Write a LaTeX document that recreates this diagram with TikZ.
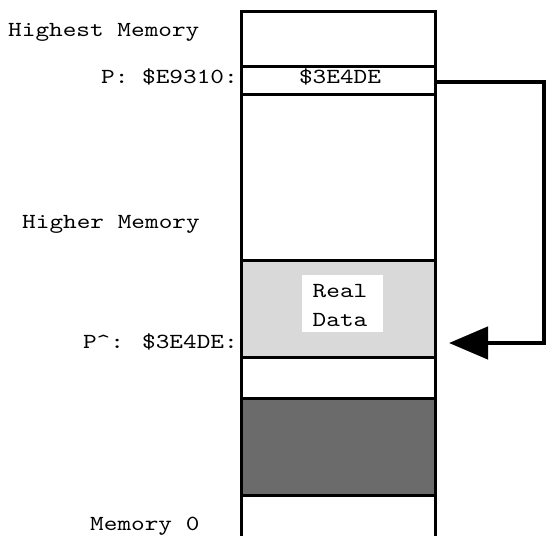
\documentclass[tikz,border=0pt]{standalone}
\usepackage{fontspec}
\newfontfamily\memfont[FakeStretch=1.21]{lmmono10-regular.otf}
\usetikzlibrary{arrows.meta}

\tikzset{
  label text/.style={font=\memfont\fontsize{21.5}{26}\selectfont, inner sep=0pt},
  cell/.style={draw=black, line width=3pt, minimum width=194pt, inner sep=0pt, outer sep=0pt},
  light fill/.style={fill=black!15},
  dark fill/.style={fill=black!58},
  pointer/.style={line width=4.5pt, -{Triangle[length=39pt,width=32pt]}},
}

\begin{document}
\begin{tikzpicture}[x=1pt,y=-1pt]
  \useasboundingbox (0,0) rectangle (548,535);

  % memory cells, top to bottom
  \node[cell, minimum height=54pt, anchor=north west] (top) at (241,12) {};
  \node[cell, minimum height=28pt, anchor=north west] (pcell) at (241,66) {};
  \node[cell, minimum height=166pt, anchor=north west] (gap) at (241,94) {};
  \node[cell, light fill, minimum height=97pt, anchor=north west] (real) at (241,260) {};
  \node[cell, minimum height=41pt, anchor=north west] (below) at (241,357) {};
  \node[cell, dark fill, minimum height=97pt, anchor=north west] (used) at (241,398) {};
  % lowest cell is open at the bottom
  \coordinate (low ll) at (241,540);
  \coordinate (low lr) at (435,540);
  \draw[line width=3pt] (used.south west) -- (low ll);
  \draw[line width=3pt] (used.south east) -- (low lr);

  % cell contents
  \node[label text, anchor=base] (pval) at (340,83) {\$3E4DE};
  \node[fill=white, minimum width=81pt, minimum height=57pt, inner sep=0pt] (realbox) at (342.5,303.5) {};
  \node[label text, anchor=base] (realtxt) at (340,297) {Real};
  \node[label text, anchor=base] (datatxt) at (340,326) {Data};

  % address labels
  \node[label text, anchor=base west] (highest) at (8,37) {Highest Memory};
  \node[label text, anchor=base east] (paddr) at (238,83) {P: \$E9310:};
  \node[label text, anchor=base west] (higher) at (22,228) {Higher Memory};
  \node[label text, anchor=base east] (pdata) at (238,348) {P\textasciicircum: \$3E4DE:};
  \node[label text, anchor=base west] (zero) at (90,530) {Memory 0};

  % pointer from P to the data it references
  \coordinate (ptr) at (449,343);
  \draw[pointer] ([yshift=-2pt]pcell.east) -- ++(109,0) |- (ptr);
\end{tikzpicture}
\end{document}
